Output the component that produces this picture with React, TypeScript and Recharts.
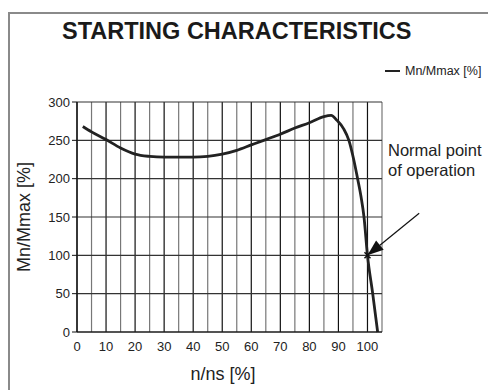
import React from 'react'
import {
  LineChart, Line, XAxis, YAxis, CartesianGrid, Legend, Label, ReferenceLine, ReferenceDot,
} from 'recharts'

// n/ns [%]
const speedPct = [2, 5, 10, 15, 20, 25, 30, 35, 40, 45, 50, 55, 60, 65, 70, 75, 80, 85, 87.5, 89.5, 91.8, 93.6, 95.2, 96.6, 97.8, 98.8, 100, 101.8, 103.5]
// Mn/Mmax [%]
const torquePct = [268, 261, 251, 240, 232, 229, 228, 228, 228, 229, 232, 237, 244, 251, 258, 266, 273, 281, 282.5, 276, 265, 250, 226, 200, 176, 150, 100, 50, 0]

const xTicks = [0, 10, 20, 30, 40, 50, 60, 70, 80, 90, 100]
const yTicks = [0, 50, 100, 150, 200, 250, 300]
const majorGrid = [0, 10, 20, 30, 40, 50, 60, 70, 80, 90, 100]
const minorGrid = [5, 15, 25, 35, 45, 55, 65, 75, 85, 95, 105]

// operating point and where the annotation arrow starts
const normalPoint = { x: 100, y: 100 }
const arrowStart = { x: 117.8, y: 155 }

const data = speedPct.map((s, i) => ({ speed: s, torque: torquePct[i] }))

const FONT = '"Liberation Sans", Arial, Helvetica, sans-serif'

const Arrow = (props: any) => {
  const { x1, y1, x2, y2 } = props
  const dx = x2 - x1
  const dy = y2 - y1
  const len = Math.sqrt(dx * dx + dy * dy)
  const ux = dx / len
  const uy = dy / len
  const head = 16
  const half = 6
  const bx = x2 - ux * head
  const by = y2 - uy * head
  const pts = `${x2},${y2} ${bx - uy * half},${by + ux * half} ${bx + uy * half},${by - ux * half}`
  return (
    <g>
      <line x1={x1} y1={y1} x2={bx} y2={by} stroke="#111" strokeWidth={1.2} />
      <polygon points={pts} fill="#111" />
    </g>
  )
}

const Cross = (props: any) => {
  const { cx, cy } = props
  return (
    <g stroke="#111" strokeWidth={1.5}>
      <line x1={cx - 3} y1={cy - 3} x2={cx + 3} y2={cy + 3} />
      <line x1={cx - 3} y1={cy + 3} x2={cx + 3} y2={cy - 3} />
    </g>
  )
}

const LegendContent = () => (
  <div style={{ display: 'flex', alignItems: 'center', fontFamily: FONT, fontSize: 12.5, color: '#222' }}>
    <span style={{ display: 'inline-block', width: 15, height: 2.5, background: '#222', marginRight: 5 }} />
    <span>Mn/Mmax [%]</span>
  </div>
)

export default function App() {
  return (
    <div style={{ position: 'relative', width: 488, height: 382, overflow: 'hidden', background: '#fff' }}>
      <div style={{ position: 'absolute', left: 0, top: 4, width: 620, height: 520, border: '2px solid #8a8a8a', boxSizing: 'border-box' }} />
      <div style={{ position: 'absolute', left: 487, top: 147, width: 20, height: 33, border: '1px solid #e2e2e2' }} />
      <div style={{ position: 'absolute', left: 54, top: 10, fontFamily: FONT, fontWeight: 'bold', fontSize: 23.5, color: '#1a1a1a', whiteSpace: 'nowrap' }}>
        STARTING CHARACTERISTICS
      </div>
      <div style={{ position: 'absolute', left: 380, top: 132, fontFamily: FONT, fontSize: 16.5, lineHeight: '20px', color: '#222' }}>
        Normal point<br />of operation
      </div>
      <LineChart
        width={488}
        height={382}
        data={data}
        margin={{ top: 94, right: 114, bottom: 8, left: 0 }}
        style={{ position: 'absolute', left: 0, top: 0 }}
      >
        <CartesianGrid horizontal={false} verticalValues={minorGrid} stroke="#777" strokeWidth={1.2} />
        <CartesianGrid horizontal={false} verticalValues={majorGrid} stroke="#111" strokeWidth={1.2} />
        <CartesianGrid vertical={false} horizontalValues={yTicks} stroke="#333" strokeWidth={1.2} />
        <XAxis
          dataKey="speed"
          type="number"
          domain={[0, 105]}
          ticks={xTicks}
          interval={0}
          height={50}
          axisLine={{ stroke: '#111', strokeWidth: 1.2 }}
          tickLine={false}
          tickMargin={4}
          tick={{ fill: '#222', fontSize: 13, fontFamily: FONT }}
        >
          <Label
            content={({ viewBox }: any) => (
              <text x={215} y={viewBox.y + 43} textAnchor="middle" dominantBaseline="middle"
                style={{ fontFamily: FONT, fontSize: 18, fill: '#222' }}>
                n/ns [%]
              </text>
            )}
          />
        </XAxis>
        <YAxis
          type="number"
          domain={[0, 300]}
          ticks={yTicks}
          interval={0}
          width={69}
          axisLine={{ stroke: '#111', strokeWidth: 1.2 }}
          tickLine={{ stroke: '#111' }}
          tickSize={5}
          tickMargin={2}
          tick={{ fill: '#222', fontSize: 13, fontFamily: FONT }}
        >
          <Label
            content={({ viewBox }: any) => {
              const cy = viewBox.y + viewBox.height / 2
              return (
                <text x={17} y={cy} textAnchor="middle" dominantBaseline="middle" transform={`rotate(-90, 17, ${cy})`}
                  style={{ fontFamily: FONT, fontSize: 18, fill: '#222' }}>
                  Mn/Mmax [%]
                </text>
              )
            }}
          />
        </YAxis>
        <Legend
          content={<LegendContent />}
          layout="horizontal"
          verticalAlign="middle"
          align="center"
          wrapperStyle={{ position: 'absolute', top: 56, left: 377, width: 120 }}
        />
        <Line
          type="monotone"
          dataKey="torque"
          stroke="#222"
          strokeWidth={2.8}
          dot={false}
          isAnimationActive={false}
        />
        <ReferenceLine
          segment={[arrowStart, normalPoint]}
          ifOverflow="visible"
          shape={<Arrow />}
        />
        <ReferenceDot x={normalPoint.x} y={normalPoint.y} r={3} ifOverflow="visible" shape={<Cross />} />
      </LineChart>
    </div>
  )
}
